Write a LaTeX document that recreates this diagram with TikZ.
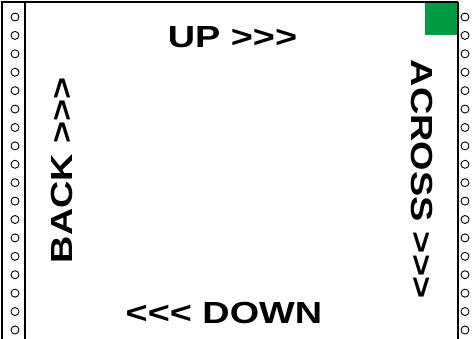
\documentclass[tikz,border=0pt]{standalone}
\usepackage{fontspec}
\newfontfamily\lab{Liberation Sans}
\definecolor{tabgreen}{RGB}{0,153,68}
\begin{document}
\begin{tikzpicture}[x=1pt,y=-1pt,
  lbl/.style={font=\lab\bfseries\fontsize{30.5}{30.5}\selectfont, inner sep=0pt, anchor=base},
  hole/.style={draw=black, line width=0.9pt},
  rulebar/.style={draw=black, line width=1.8pt}]
\useasboundingbox (0,0) rectangle (474,339);
\fill[white] (0,0) rectangle (474,339);
% green tab
\fill[tabgreen] (425,2) rectangle (458,35);
% frame and strip lines
\draw[rulebar] (2,339) -- (2,2) -- (458,2);
\draw[rulebar] (25,2) -- (25,339);
\draw[rulebar] (458,2) -- (458,339);
% sprocket holes
\foreach \i in {0,...,17} {
  \draw[hole] (15,{17+18.41*\i}) circle (4pt);
  \draw[hole] (465,{17+18.41*\i}) circle (4pt);
}
% labels
\node[lbl] (up) at (232.5,48) {\scalebox{1.24}[1]{UP >>>}};
\node[lbl] (down) at (224,323) {\scalebox{1.24}[1]{<<< DOWN}};
\node[lbl, rotate=90] (back) at (72,170) {\scalebox{1.24}[1]{BACK >>>}};
\node[lbl, rotate=-90] (across) at (411,179) {\scalebox{1.24}[1]{ACROSS >>>}};
\end{tikzpicture}
\end{document}
